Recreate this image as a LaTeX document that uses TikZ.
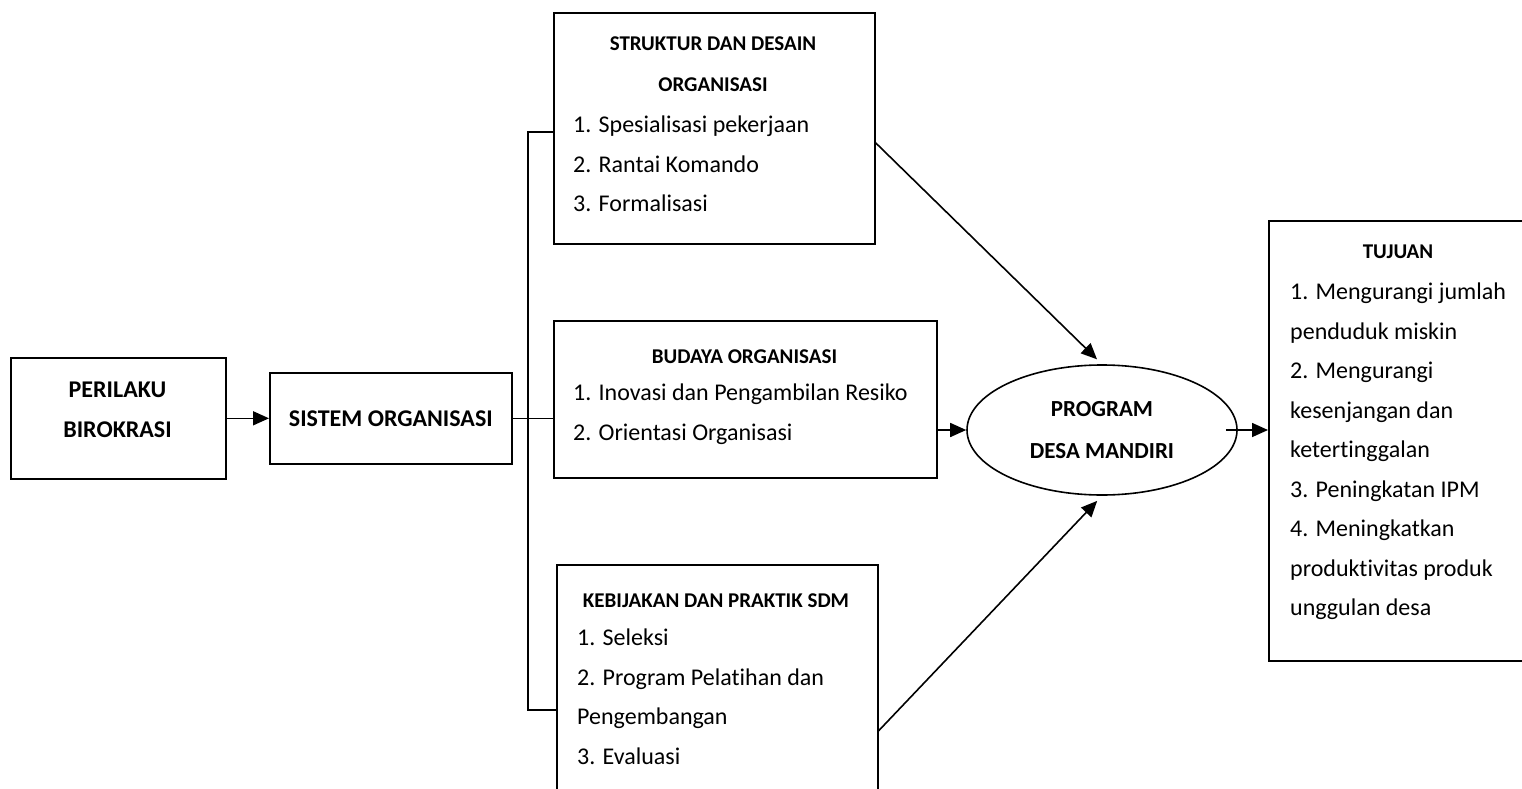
\documentclass[tikz,border=0pt]{standalone}
\usepackage{fontspec}
\setmainfont{Carlito}[Ligatures=NoCommon]
\usetikzlibrary{arrows.meta, shapes.geometric}

\begin{document}
\begin{tikzpicture}[x=1pt, y=-1pt,
    box/.style={rectangle, draw=black, line width=1.6pt, inner sep=0pt, anchor=north west, align=center, font=\fontsize{24}{40}\selectfont\bfseries},
    oval/.style={ellipse, draw=black, line width=1.6pt, inner sep=0pt, minimum width=270pt, minimum height=130pt, align=center, font=\fontsize{23}{42}\selectfont\bfseries},
    head/.style={anchor=north, inner sep=0pt, align=center, font=\fontsize{21}{41}\selectfont\bfseries},
    big/.style={font=\fontsize{24}{40}\selectfont\bfseries},
    list/.style={anchor=north west, inner sep=0pt, align=left, font=\fontsize{24}{39.5}\selectfont},
    line/.style={draw=black, line width=1.6pt, -{Triangle[length=16pt, width=14pt]}}
]
    \useasboundingbox (0,0) rectangle (1522,789);
    \clip (0,0) rectangle (1522,789);

    % Left chain
    \node[box, minimum width=215pt, minimum height=121pt] (PER) at (10,357) {};
    \node[head, big] (PERt) at (117.5,369) {\strut PERILAKU\\BIROKRASI};
    \node[box, minimum width=242pt, minimum height=91pt] (SIS) at (269,372) {SISTEM ORGANISASI};

    % Middle boxes
    \node[box, minimum width=321pt, minimum height=231pt] (STR) at (553,12) {};
    \node[head] (STRh) at (713,22) {\strut STRUKTUR DAN DESAIN\\ORGANISASI};
    \node[list] (STRl) at (573,105) {\strut 1. Spesialisasi pekerjaan\\2. Rantai Komando\\3. Formalisasi};

    \node[box, minimum width=383pt, minimum height=157pt] (BUD) at (553,320) {};
    \node[head] (BUDh) at (744.5,335) {\strut BUDAYA ORGANISASI};
    \node[list] (BUDl) at (573,373) {\strut 1. Inovasi dan Pengambilan Resiko\\2. Orientasi Organisasi};

    \node[box, minimum width=321pt, minimum height=332pt] (KEB) at (556,564) {};
    \node[head] (KEBh) at (716,579) {\strut KEBIJAKAN DAN PRAKTIK SDM};
    \node[list] (KEBl) at (577,618) {\strut 1. Seleksi\\2. Program Pelatihan dan\\Pengembangan\\3. Evaluasi};

    % Program and goals
    \node[oval] (PROG) at (1102,430) {PROGRAM\\DESA MANDIRI};

    \node[box, minimum width=262pt, minimum height=440pt] (TUJ) at (1268,220) {};
    \node[head] (TUJh) at (1398,230) {\strut TUJUAN};
    \node[list] (TUJl) at (1290,272) {\strut 1. Mengurangi jumlah\\penduduk miskin\\2. Mengurangi\\kesenjangan dan\\ketertinggalan\\3. Peningkatan IPM\\4. Meningkatkan\\produktivitas produk\\unggulan desa};

    % Connectors
    \coordinate (BT) at (528,132);
    \coordinate (BB) at (528,710);
    \draw[line] (PER) -- (SIS);
    \draw[line width=1.6pt] (SIS.east) -- (SIS.east -| BUD.west);
    \draw[line width=1.6pt] (STR.west |- BT) -- (BT) -- (BB) -- (KEB.west |- BB);
    \draw[line, shorten >=7pt] ([yshift=-14.5pt]STR.east) -- (PROG.north);
    \draw[line, shorten >=7pt] (KEB.east) -- (PROG.south);
    \draw[line] (BUD.east |- PROG.west) -- (PROG.west);
    \draw[line] ([xshift=-12pt]PROG.east) -- (PROG.east -| TUJ.west);
\end{tikzpicture}
\end{document}
